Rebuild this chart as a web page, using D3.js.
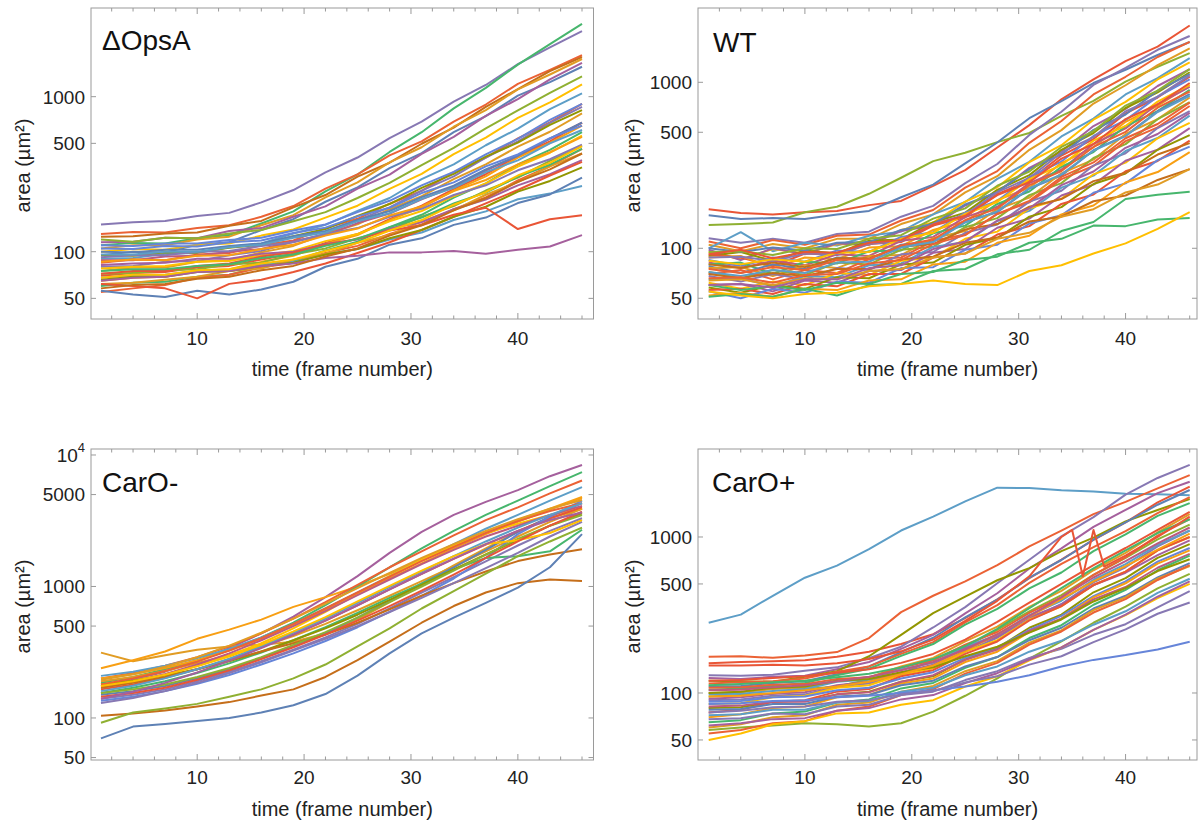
<!DOCTYPE html>
<html>
<head>
<meta charset="utf-8">
<script src="https://cdn.jsdelivr.net/npm/d3@7"></script>
<style>
  html, body { margin: 0; padding: 0; background: #fff; }
  svg { display: block; font-family: "Liberation Sans", Arial, Helvetica, sans-serif; }
</style>
</head>
<body>
<svg id="chart" width="1198" height="823"></svg>
<script>
// Frames at which each cell's area was sampled
const frames = [1, 4, 7, 10, 13, 16, 19, 22, 25, 28, 31, 34, 37, 40, 43, 46];

// Line colours (Mathematica-style default palette)
const palette = ["#5E81B5", "#E19C24", "#8FB032", "#EB6235", "#8778B3", "#C56E1A", "#5D9EC7",
                 "#FFBF00", "#A5609D", "#929600", "#E95536", "#6685D9", "#F89F13", "#BC5B80", "#47B66D"];

// ΔOpsA: cell area (µm²) per frame, one row per cell
const opsAAreas = [
  [150,155,158,170,178,208,250,325,405,540,690,930,1190,1620,2080,2650],
  [110,114,113,122,128,152,182,245,315,440,590,840,1140,1610,2180,2950],
  [130,134,133,142,148,168,197,255,315,418,515,690,890,1210,1490,1850],
  [125,126,131,133,147,158,193,232,305,375,497,632,860,1120,1460,1800],
  [105,110,110,120,125,148,172,224,280,377,472,640,820,1115,1390,1750],
  [95,100,99,111,115,138,162,210,260,346,432,590,750,1015,1240,1560],
  [115,116,123,122,136,142,168,196,255,314,428,550,752,965,1295,1650],
  [120,116,123,122,131,138,157,180,222,278,362,468,625,815,1058,1350],
  [100,104,103,111,113,127,139,166,198,254,318,426,545,730,920,1200],
  [90,91,97,98,107,113,131,149,183,222,294,366,486,622,830,1050],
  [85,89,88,96,98,110,118,142,163,204,247,326,405,538,682,900],
  [80,81,86,87,95,101,116,130,160,193,248,306,405,514,678,860],
  [75,79,79,86,88,99,109,130,150,188,228,294,366,476,594,780],
  [95,94,99,99,106,111,126,140,170,203,258,318,410,505,658,820],
  [70,73,74,79,81,89,97,114,130,162,198,253,316,415,514,680],
  [110,109,113,113,119,123,137,150,180,213,268,327,425,534,708,900],
  [65,68,69,75,77,86,94,112,128,160,193,248,306,405,504,650],
  [88,88,93,94,100,104,117,128,153,176,218,262,334,416,536,680],
  [60,63,64,69,71,80,87,102,116,144,173,223,276,365,454,590],
  [100,99,103,103,109,113,126,136,160,183,225,267,339,416,536,680],
  [78,80,81,86,87,95,101,117,130,157,183,228,276,354,435,560],
  [72,73,76,77,83,85,96,105,122,138,168,197,248,301,385,480],
  [55,58,61,68,71,79,85,98,109,130,150,188,224,288,356,460],
  [68,70,71,75,76,83,86,96,104,120,133,160,182,218,237,265],
  [62,63,66,69,75,78,89,97,114,128,157,185,233,281,355,430],
  [82,84,85,90,90,97,100,112,120,141,155,188,217,268,316,390],
  [56,53,51,56,53,57,64,80,90,111,122,149,166,206,234,300],
  [62,60,58,50,62,66,74,84,98,115,138,168,205,250,310,380],
  [92,95,95,100,101,109,115,130,142,168,189,232,268,335,395,490],
  [66,69,69,74,75,81,85,96,104,122,138,168,195,244,286,350],
  [105,104,109,108,115,118,132,143,169,192,239,280,355,424,540,650],
  [86,89,88,94,95,104,111,127,141,171,196,246,290,366,438,550],
  [72,75,75,81,84,93,99,111,121,137,148,173,192,140,162,172],
  [65,68,69,74,75,81,84,91,94,99,99,101,97,103,108,128],
  [75,77,77,81,83,91,96,109,121,144,166,205,241,305,364,460],
  [58,61,62,67,69,76,81,93,105,127,148,185,221,282,340,430],
  [96,96,100,100,107,111,123,133,157,177,219,258,326,388,500,610],
  [68,71,71,76,77,84,89,101,114,137,160,201,242,310,374,480]
];
const opsAColors = [4,14,3,5,1,0,8,2,7,6,3,4,1,9,10,11,12,13,14,0,7,2,3,6,1,8,0,10,4,9,11,12,10,8,14,5,6,7];

// WT
const wtAreas = [
  [172,163,160,165,168,182,193,238,296,405,552,790,1040,1340,1640,2200],
  [138,140,143,165,178,213,266,335,376,436,495,628,772,1010,1240,1500],
  [158,150,152,150,160,168,203,242,325,434,608,770,990,1190,1460,1750],
  [115,108,114,108,122,126,155,180,247,322,482,665,965,1220,1570,1900],
  [110,100,112,105,119,121,147,170,232,292,432,585,845,1080,1420,1750],
  [105,96,106,100,114,114,140,160,217,272,392,515,745,960,1270,1600],
  [100,125,96,108,104,119,126,160,190,262,332,472,605,845,1060,1400],
  [95,86,99,93,106,105,129,143,191,233,330,418,595,762,1040,1320],
  [98,85,100,92,107,105,127,137,181,218,305,383,545,692,950,1200],
  [90,95,84,97,93,111,113,143,164,225,276,392,495,700,870,1150],
  [92,88,78,93,91,106,109,137,154,212,256,362,455,650,810,1080],
  [85,78,88,83,97,95,117,125,164,193,269,333,475,592,820,1040],
  [88,90,76,88,86,101,103,129,145,195,232,326,406,578,722,960],
  [82,76,84,79,92,90,111,117,154,178,247,298,425,528,740,940],
  [80,82,70,83,81,96,97,123,137,185,220,310,380,545,670,900],
  [78,71,80,75,88,86,105,110,144,165,229,274,390,478,670,850],
  [76,77,68,79,76,90,91,115,127,172,202,283,342,488,600,810],
  [72,66,74,69,82,80,98,102,134,152,209,247,350,424,600,760],
  [70,74,65,74,71,86,88,111,121,161,189,261,313,442,535,720],
  [68,63,70,65,76,74,92,95,124,139,191,222,315,374,530,670],
  [65,66,59,68,67,79,81,102,109,146,168,232,274,386,462,630],
  [62,57,63,60,71,69,84,88,114,126,174,199,279,328,460,570],
  [60,61,55,64,62,73,74,94,99,133,151,208,242,337,393,530],
  [58,54,60,57,67,66,80,82,105,115,155,177,244,282,392,480],
  [56,57,53,61,59,70,70,88,93,121,136,185,211,291,336,445],
  [55,50,57,54,63,62,76,77,98,105,141,158,216,246,340,410],
  [52,54,51,57,56,64,65,80,83,108,119,160,181,249,288,380],
  [51,53,51,57,52,60,61,73,75,92,98,127,144,198,210,219],
  [60,56,59,56,62,61,70,72,85,89,108,114,137,136,149,152],
  [55,52,50,53,54,59,61,64,61,60,73,79,93,107,131,165],
  [70,66,71,68,75,75,86,89,108,116,145,155,192,208,258,300],
  [80,76,82,77,87,87,102,106,130,140,178,198,254,285,367,430],
  [64,65,60,66,65,73,75,88,93,114,124,155,172,217,242,300],
  [100,95,101,97,108,109,129,140,184,218,300,368,517,640,890,1120],
  [88,89,84,93,92,106,111,140,159,218,265,378,468,668,820,1100],
  [75,71,77,74,85,86,104,113,148,174,240,292,408,503,703,880],
  [95,96,91,100,99,114,120,151,174,238,290,408,508,724,890,1200],
  [72,68,74,71,82,83,101,109,143,167,230,279,388,474,662,830],
  [66,67,62,69,70,81,85,106,120,161,193,269,329,460,561,755],
  [84,80,86,83,94,95,114,124,161,190,261,317,445,546,765,965],
  [60,61,58,65,65,76,79,99,110,147,174,240,290,403,488,655],
  [92,98,87,95,94,108,112,139,157,209,250,347,425,600,735,990]
];
const wtColors = [10,2,0,4,3,1,6,7,8,9,10,11,12,13,14,0,1,2,3,4,6,7,8,9,10,11,12,14,14,7,5,5,1,0,4,3,2,6,3,7,8,10];

// CarO-
const caroMinusAreas = [
  [175,195,225,270,340,440,590,830,1200,1800,2600,3500,4400,5400,6900,8400],
  [314,270,300,330,350,360,380,440,560,760,1050,1450,1950,2600,3300,3900],
  [239,275,320,400,470,560,700,830,1000,1250,1600,2050,2600,3200,3900,4800],
  [185,205,235,275,330,410,530,720,1000,1400,1950,2650,3500,4500,5800,7400],
  [200,220,250,290,350,440,570,760,1030,1400,1850,2450,3200,4000,5100,6400],
  [209,225,250,285,335,410,520,680,900,1200,1600,2100,2750,3500,4500,5700],
  [200,215,240,275,325,400,510,660,870,1150,1500,1950,2500,3100,3850,4700],
  [190,205,228,262,300,350,420,520,660,850,1100,1420,1850,2400,3100,3900],
  [175,192,215,250,300,370,480,640,880,1200,1600,2050,2550,3000,3500,3950],
  [150,160,175,200,235,285,350,440,580,780,1050,1400,1900,2600,3400,4300],
  [140,150,165,190,225,270,330,410,520,680,900,1180,1550,2050,2650,3300],
  [165,180,202,235,280,345,430,550,720,950,1250,1620,2080,2650,3300,4000],
  [155,170,190,220,260,315,390,490,630,820,1050,1350,1650,1700,1850,2700],
  [135,145,160,182,212,255,310,385,490,640,850,1150,1650,2500,3400,4500],
  [170,188,215,255,310,390,500,650,860,1130,1480,1900,2400,2900,3500,4100],
  [180,192,210,235,270,320,390,480,610,790,1030,1350,1750,2250,2900,3600],
  [104,108,114,122,132,148,165,205,275,380,530,710,900,1060,1130,1100],
  [170,185,205,235,275,320,370,430,530,670,850,1060,1300,1560,1750,1920],
  [92,110,118,128,145,165,200,255,350,480,680,920,1250,1700,2200,2800],
  [70,86,90,95,100,110,125,152,210,310,440,580,750,980,1400,2500],
  [180,200,228,268,325,405,520,680,900,1190,1560,2000,2550,3150,3750,4300],
  [155,165,180,205,240,290,360,450,580,760,1000,1320,1750,2300,2900,3500],
  [195,215,245,290,355,445,570,740,970,1270,1650,2100,2650,3250,3900,4550],
  [130,142,160,185,220,265,325,400,500,640,820,1060,1380,1800,2400,3100],
  [160,176,200,235,282,350,445,570,750,990,1300,1700,2200,2800,3500,4300],
  [175,190,213,247,293,360,455,585,770,1010,1320,1700,2100,2250,2550,3200],
  [145,155,170,195,230,280,345,430,550,710,930,1230,1650,2200,2900,3700],
  [140,158,185,222,272,340,430,550,720,950,1250,1630,2100,2650,3200,3650]
];
const caroMinusColors = [8,1,12,14,3,6,12,1,7,0,4,10,14,11,13,9,5,5,2,0,3,2,1,4,6,7,10,8];

// CarO+
const caroPlusAreas = [
  [282,318,420,548,655,835,1100,1350,1690,2070,2060,1990,1960,1890,1880,1850],
  [171,172,168,174,183,225,330,420,520,660,870,1100,1400,1680,2050,2490],
  [155,158,160,162,171,184,206,238,302,398,545,715,958,1240,1665,2100],
  [130,129,131,139,146,167,198,263,355,505,715,1010,1340,1870,2390,2900],
  [125,123,127,129,142,158,192,236,324,436,628,845,1160,1490,1910,2260],
  [120,119,118,127,138,172,236,325,415,528,632,812,990,1260,1490,1750],
  [110,111,116,119,132,148,183,226,305,396,548,712,962,1240,1610,2000],
  [115,117,119,124,137,148,178,212,284,366,508,672,860,1090,1420,1800],
  [105,107,111,116,130,143,173,206,274,346,468,592,812,1040,1365,1650],
  [100,101,106,108,120,126,148,168,214,266,356,452,612,790,1070,1400],
  [95,97,99,106,110,122,133,163,198,254,334,424,572,735,965,1200],
  [108,109,113,114,123,126,145,162,204,246,326,412,572,740,1020,1300],
  [90,91,96,98,110,115,132,146,184,226,296,372,512,640,870,1100],
  [98,99,103,106,118,122,142,156,198,236,316,390,532,670,890,1100],
  [85,86,94,96,108,112,131,144,184,218,296,360,492,600,820,1000],
  [92,94,99,101,112,118,136,152,194,230,306,368,492,590,765,950],
  [80,81,88,89,98,102,118,128,164,194,262,318,442,545,735,900],
  [75,78,88,90,102,106,128,140,178,214,292,360,492,600,820,1000],
  [88,89,94,95,104,108,124,136,168,196,254,312,418,520,695,850],
  [70,73,80,82,94,97,115,124,158,184,246,300,410,505,675,820],
  [82,83,88,88,98,101,118,130,163,190,250,300,398,478,635,780],
  [65,67,74,76,87,91,107,116,145,170,225,272,368,458,612,760],
  [78,79,85,85,95,97,112,120,148,170,218,262,348,420,550,680],
  [60,63,70,72,84,87,102,111,138,160,210,252,340,410,540,650],
  [58,60,62,64,63,61,64,76,96,124,166,214,282,358,468,580],
  [55,58,64,66,77,82,97,106,133,156,204,248,328,400,530,660],
  [68,69,74,73,82,84,97,102,121,138,168,192,236,276,354,450],
  [72,73,78,78,87,89,102,108,130,148,184,216,274,334,438,540],
  [50,55,63,66,74,75,84,90,110,128,162,196,254,316,406,500],
  [62,64,68,69,77,80,91,97,116,134,164,196,254,318,414,520],
  [85,86,89,90,94,96,100,104,110,118,130,148,163,175,190,213],
  [75,77,81,82,88,90,98,103,117,128,152,172,212,256,322,380],
  [100,102,108,110,120,123,136,146,172,198,244,296,386,470,605,720],
  [120,121,125,128,135,142,156,178,220,286,380,500,660,850,1110,1450],
  [112,114,117,120,126,133,146,165,200,258,350,470,630,820,1060,1300],
  [95,96,100,104,110,118,132,150,186,238,310,400,520,650,830,1050],
  [104,105,109,112,119,127,140,158,190,238,312,410,550,700,910,1150]
];
const caroPlusColors = [6,3,10,4,8,9,0,3,14,1,2,3,4,6,7,8,9,10,11,12,13,14,0,1,2,3,4,6,7,8,11,4,9,10,14,12,13];

// CarO+ cell whose outline briefly jumps around frames 35-38
const caroPlusJumpFrames = [1,4,7,10,13,16,19,22,25,28,31,34,35,36,37,38,40,43,46];
const caroPlusJumpAreas = [150,150,152,150,155,165,185,220,290,390,560,1000,1110,560,1110,645,760,1000,1350];

const svg = d3.select("#chart");
const ink = "#222";
const frameGrey = "#9a9a9a";

const panels = [
  { title: "ΔOpsA", areas: opsAAreas, colors: opsAColors, yDomain: [36.8, 3733], yTicks: [50, 100, 500, 1000],
    box: { l: 91, t: 8, r: 593.5, b: 319 }, x0: 90.3, titleX: 102, titleY: 50, yTitleX: 30, xTitleY: 376, xTickY: 345 },
  { title: "WT", areas: wtAreas, colors: wtColors, yDomain: [37.5, 2803], yTicks: [50, 100, 500, 1000],
    box: { l: 698, t: 8, r: 1197, b: 319 }, x0: 698, titleX: 713, titleY: 52, yTitleX: 640, xTitleY: 376, xTickY: 345 },
  { title: "CarO-", areas: caroMinusAreas, colors: caroMinusColors, yDomain: [47.9, 11107], yTicks: [50, 100, 500, 1000, 5000, 10000],
    box: { l: 91, t: 449, r: 593.5, b: 760 }, x0: 90.3, titleX: 102, titleY: 492, yTitleX: 30, xTitleY: 816, xTickY: 784 },
  { title: "CarO+", areas: caroPlusAreas, colors: caroPlusColors, yDomain: [37.2, 3664], yTicks: [50, 100, 500, 1000],
    box: { l: 698, t: 449, r: 1197, b: 760 }, x0: 698, titleX: 712, titleY: 492, yTitleX: 640, xTitleY: 816, xTickY: 784,
    extra: { frames: caroPlusJumpFrames, areas: caroPlusJumpAreas, color: 10 } }
];

const xMajor = [10, 20, 30, 40];
const xMinor = d3.range(2, 47, 2).filter(v => v % 10 !== 0);

panels.forEach((p, i) => {
  const b = p.box;
  const x = d3.scaleLinear().domain([0, 47]).range([p.x0, p.x0 + 502.4]);
  const y = d3.scaleLog().domain(p.yDomain).range([b.b, b.t]);
  const g = svg.append("g");

  const clipId = "clip" + i;
  g.append("clipPath").attr("id", clipId)
    .append("rect").attr("x", b.l).attr("y", b.t).attr("width", b.r - b.l).attr("height", b.b - b.t);

  const line = d3.line().x(d => x(d[0])).y(d => y(d[1]));
  const plot = g.append("g").attr("clip-path", `url(#${clipId})`);

  const drawCell = (pts, colour) => plot.append("path")
    .attr("d", line(pts))
    .attr("fill", "none")
    .attr("stroke", colour)
    .attr("stroke-width", 2)
    .attr("stroke-linejoin", "round");

  p.areas.forEach((row, k) => drawCell(row.map((v, j) => [frames[j], v]), palette[p.colors[k]]));
  if (p.extra) {
    drawCell(p.extra.areas.map((v, j) => [p.extra.frames[j], v]), palette[p.extra.color]);
  }

  // frame with inward ticks on all sides
  g.append("rect").attr("x", b.l).attr("y", b.t).attr("width", b.r - b.l).attr("height", b.b - b.t)
    .attr("fill", "none").attr("stroke", frameGrey).attr("stroke-width", 1);

  const tick = (x1, y1, x2, y2) => g.append("line")
    .attr("x1", x1).attr("y1", y1).attr("x2", x2).attr("y2", y2)
    .attr("stroke", frameGrey).attr("stroke-width", 1);

  xMajor.concat(xMinor).forEach(v => {
    const len = xMajor.includes(v) ? 6 : 3.5;
    const px = x(v);
    if (px > b.r) return;
    tick(px, b.b, px, b.b - len);
    tick(px, b.t, px, b.t + len);
  });
  p.yTicks.forEach(v => {
    const py = y(v);
    tick(b.l, py, b.l + 5, py);
    tick(b.r, py, b.r - 5, py);
  });

  // tick labels
  xMajor.forEach(v => {
    g.append("text").attr("x", x(v)).attr("y", p.xTickY)
      .attr("text-anchor", "middle").attr("font-size", 19).attr("fill", ink).text(v);
  });
  p.yTicks.forEach(v => {
    const t = g.append("text").attr("x", b.l - 6).attr("y", y(v)).attr("dy", "0.36em")
      .attr("text-anchor", "end").attr("font-size", 19).attr("fill", ink);
    if (v === 10000) {
      t.append("tspan").text("10");
      t.append("tspan").attr("font-size", 13).attr("dy", "-0.75em").text("4");
    } else {
      t.text(v);
    }
  });

  // titles
  g.append("text").attr("x", p.titleX).attr("y", p.titleY)
    .attr("font-size", 28).attr("fill", "#111").text(p.title);
  g.append("text").attr("x", (b.l + b.r) / 2).attr("y", p.xTitleY)
    .attr("text-anchor", "middle").attr("font-size", 20).attr("fill", ink).text("time (frame number)");
  g.append("text")
    .attr("transform", `translate(${p.yTitleX},${(b.t + b.b) / 2 + 2}) rotate(-90)`)
    .attr("text-anchor", "middle").attr("font-size", 20).attr("fill", ink).text("area (µm²)");
});
</script>
</body>
</html>
